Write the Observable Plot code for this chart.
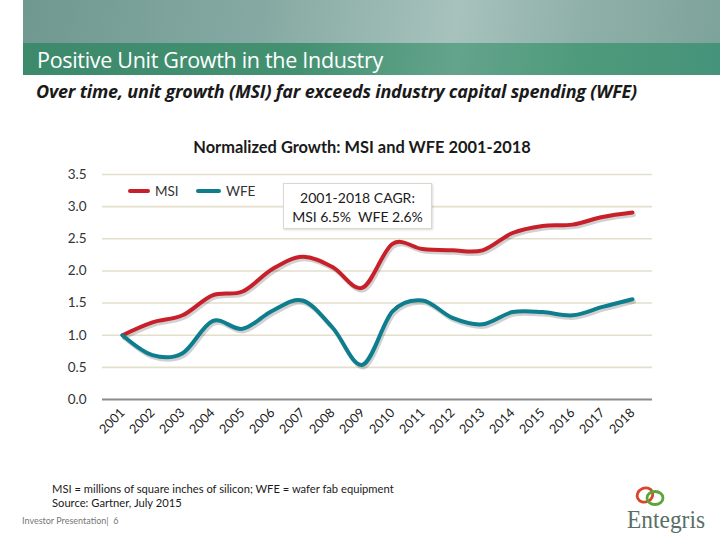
<!DOCTYPE html>
<html>
<head>
<meta charset="utf-8">
<script src="https://cdn.jsdelivr.net/npm/d3@7"></script>
<script src="https://cdn.jsdelivr.net/npm/@observablehq/plot@0.6"></script>
<style>
  html, body { margin: 0; padding: 0; background: #fff; }
  #page { position: relative; width: 720px; height: 540px; overflow: hidden; background: #fff; font-family: Lato, "Open Sans", sans-serif; color: #1a1a1a; }
  #hdr { position: absolute; left: 23px; top: 0; width: 697px; height: 43px;
    background: linear-gradient(100deg, #6f9890 0%, #86aaa3 35%, #a7c2bc 62%, #8fb0a9 80%, #7ea39b 100%); }
  #bar { position: absolute; left: 23px; top: 43px; width: 697px; height: 32px;
    background: linear-gradient(100deg, #3c8a6b 0%, #449172 40%, #63a48c 62%, #4e9a7c 80%, #45937a 100%); }
  #bar span { position: absolute; left: 14px; top: 2px; color: #fff; font-size: 21.5px; font-family: "Open Sans", Lato, sans-serif; letter-spacing: -0.3px; }
  #sub { position: absolute; left: 36px; top: 79px; font-size: 18px; font-weight: bold; font-style: italic; color: #1a1a1a; font-family: "Open Sans", Lato, sans-serif; letter-spacing: -0.2px; }
  #ctitle { position: absolute; left: 0; width: 724px; top: 137px; text-align: center; font-size: 16.4px; font-weight: bold; color: #1a1a1a; }
  #chart { position: absolute; left: 0; top: 160px; }
  .leg { position: absolute; top: 183px; font-size: 13.5px; color: #333; }
  .sw { position: absolute; top: 189px; height: 4px; border-radius: 2px; }
  #box { position: absolute; left: 283px; top: 183px; width: 149px; height: 46px; border: 1px solid #d8d8d0; background: #fff;
    box-shadow: 1px 1px 2px rgba(0,0,0,0.15); text-align: center; font-size: 14px; line-height: 19px; color: #1a1a1a; padding-top: 4px; box-sizing: border-box; }
  #foot { position: absolute; left: 52px; top: 482px; font-size: 11.2px; line-height: 14px; color: #1a1a1a; }
  #inv { position: absolute; left: 22px; top: 515px; font-size: 9px; color: #777; }
  #logo { position: absolute; left: 622px; top: 482px; }
</style>
</head>
<body>
<div id="page">
  <div id="hdr"></div>
  <div id="bar"><span>Positive Unit Growth in the Industry</span></div>
  <div id="sub">Over time, unit growth (MSI) far exceeds industry capital spending (WFE)</div>
  <div id="ctitle">Normalized Growth: MSI and WFE 2001-2018</div>
  <div id="chart"></div>
  <div class="sw" style="left:128px;width:22px;background:#c8202b"></div>
  <div class="leg" style="left:155px">MSI</div>
  <div class="sw" style="left:196px;width:25px;background:#0e7e8e"></div>
  <div class="leg" style="left:226px">WFE</div>
  <div id="box">2001-2018 CAGR:<br>MSI 6.5%&nbsp;&nbsp;WFE 2.6%</div>
  <div id="foot">MSI = millions of square inches of silicon; WFE = wafer fab equipment<br>Source: Gartner, July 2015</div>
  <div id="inv">Investor Presentation|&nbsp; 6</div>
  <svg id="logo" width="92" height="52" viewBox="0 0 92 52">
    <ellipse cx="23" cy="13" rx="8" ry="7" transform="rotate(-25 23 13)" fill="none" stroke="#d8452a" stroke-width="2.8"/>
    <ellipse cx="33" cy="16" rx="8" ry="6.5" fill="none" stroke="#5aa63a" stroke-width="2.8"/>
    <text x="5" y="46" font-family="Liberation Serif, DejaVu Serif, serif" font-size="26" fill="#5a6e66" textLength="78" lengthAdjust="spacingAndGlyphs">Entegris</text>
  </svg>
</div>
<script>
const years = ["2001","2002","2003","2004","2005","2006","2007","2008","2009","2010","2011","2012","2013","2014","2015","2016","2017","2018"];
const msi = [1.00,1.20,1.31,1.62,1.68,2.03,2.22,2.06,1.74,2.42,2.34,2.32,2.32,2.59,2.70,2.72,2.84,2.91];
const wfe = [1.00,0.69,0.72,1.22,1.10,1.38,1.54,1.12,0.54,1.37,1.54,1.27,1.17,1.36,1.36,1.31,1.44,1.56];
const yTicks = [0,0.5,1.0,1.5,2.0,2.5,3.0,3.5];
const seriesNames = ["MSI","WFE"];
const colors = ["#c8202b","#0e7e8e"];

const rows = [];
years.forEach((y, i) => {
  rows.push({year: y, value: msi[i], series: seriesNames[0]});
  rows.push({year: y, value: wfe[i], series: seriesNames[1]});
});

const chart = Plot.plot({
  width: 720,
  height: 292,
  marginLeft: 102,
  marginRight: 68,
  marginTop: 14,
  marginBottom: 53,
  style: {fontFamily: "Lato, 'Open Sans', sans-serif", fontSize: "13px", color: "#333", background: "transparent", overflow: "visible"},
  x: {type: "point", domain: years, padding: 0.5, label: null},
  y: {domain: [0, 3.5], label: null},
  color: {domain: seriesNames, range: colors},
  marks: [
    Plot.ruleY(yTicks.filter(d => d > 0), {stroke: "#e3dfcb", strokeWidth: 1.6}),
    Plot.ruleY([0], {stroke: "#8a8a8a", strokeWidth: 2.2}),
    Plot.axisY({ticks: yTicks, tickFormat: d3.format(".1f"), tickSize: 0, tickPadding: 16, fontSize: 13.5, fill: "#333", label: null}),
    Plot.axisX({tickSize: 0, tickPadding: 11, tickRotate: -45, fontSize: 12.8, fill: "#1a1a1a", label: null}),
    Plot.line(rows, {x: "year", y: "value", z: "series", stroke: "#000", strokeOpacity: 0.18, strokeWidth: 4, dx: 1.5, dy: 2.5, curve: "cardinal"}),
    Plot.line(rows, {x: "year", y: "value", z: "series", stroke: "series", strokeWidth: 4, curve: "cardinal"})
  ]
});
document.getElementById("chart").appendChild(chart);
</script>
</body>
</html>
